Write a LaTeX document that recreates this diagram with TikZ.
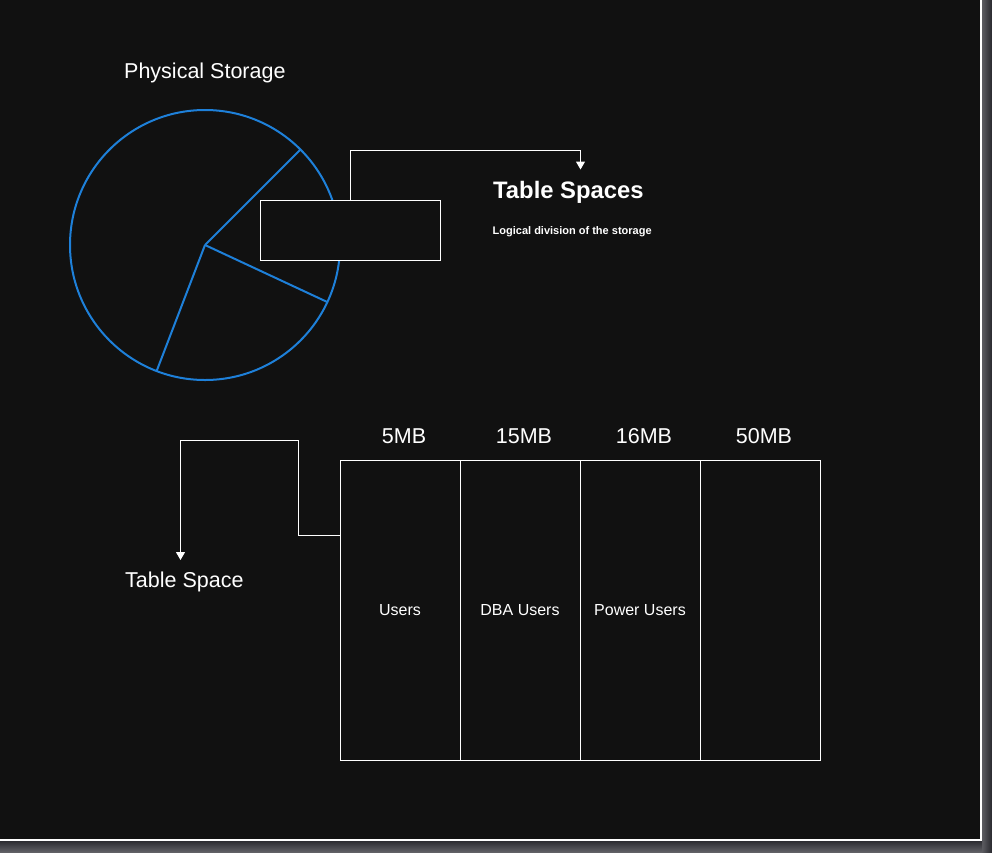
\documentclass[tikz,border=0pt]{standalone}
\usepackage{fontspec}
\setmainfont{Liberation Sans}
\usetikzlibrary{arrows.meta,calc,positioning}

\newlength{\du}
\setlength{\du}{1pt}

\definecolor{canvascolor}{rgb}{0.066667, 0.066667, 0.066667}
\definecolor{diskcolor}{rgb}{0.117647, 0.501961, 0.850980}
\definecolor{shadowlight}{rgb}{0.380000, 0.380000, 0.400000}
\definecolor{shadowdark}{rgb}{0.160000, 0.160000, 0.180000}

\tikzset{
  disk/.style={circle, draw=diskcolor, line width=2\du, minimum size=270\du, inner sep=0pt, outer sep=0pt},
  spoke/.style={draw=diskcolor, line width=2\du},
  tsbox/.style={draw=white, fill=canvascolor, line width=1\du, minimum width=180\du, minimum height=60\du, inner sep=0pt, outer sep=0pt},
  cellbox/.style={draw=white, fill=canvascolor, line width=1\du, minimum width=120\du, minimum height=300\du, inner sep=0pt, outer sep=0pt, text=white, font=\fontsize{16}{19}\selectfont},
  headtext/.style={text=white, inner sep=0pt, font=\fontsize{21.5}{26}\selectfont},
  titletext/.style={text=white, inner sep=0pt, font=\fontsize{23.8}{28}\selectfont\bfseries},
  notetext/.style={text=white, inner sep=0pt, font=\fontsize{11}{13}\selectfont\bfseries},
  linkline/.style={draw=white, line width=1\du, -{Triangle[width=9pt,length=8pt]}}
}

\begin{document}
\begin{tikzpicture}
  \pgftransformxscale{1.000000}
  \pgftransformyscale{-1.000000}
  \useasboundingbox (0\du,0\du) rectangle (992\du,852\du);
  % frame and shadow
  \shade[left color=shadowlight, right color=shadowdark] (981\du,0\du) rectangle (992\du,852\du);
  \shade[top color=shadowdark, bottom color=shadowlight] (0\du,840\du) rectangle (982\du,852\du);
  \fill[canvascolor] (0\du,0\du) rectangle (981\du,840\du);
  \draw[white, line width=1.5\du] (981\du,0\du) -- (981\du,840\du) -- (0\du,840\du);

  % physical storage
  \node[headtext, anchor=base west] (pstitle) at (124\du,78\du) {Physical Storage};
  \node[disk] (disk) at (205\du,245\du) {};
  \draw[spoke] (disk.center) -- (disk.45);
  \draw[spoke] (disk.center) -- (disk.-25);
  \draw[spoke] (disk.center) -- (disk.-111);
  \node[tsbox] (tsbox) at (350\du,230\du) {};

  \node[titletext, anchor=base west] (tstitle) at (493\du,198\du) {Table Spaces};
  \node[notetext, anchor=base west] (tsnote) at (492.5\du,234\du) {Logical division of the storage};

  \coordinate (tsbend) at (580.5\du,150.5\du);
  \coordinate (tsarrow) at (580.5\du,169.5\du);
  \draw[linkline] (tsbox.north) |- (tsbend) -- (tsarrow);

  % table space cells
  \node[cellbox] (users) at (400\du,610.5\du) {\raisebox{-2\du}{Users}};
  \node[cellbox, right=0pt of users] (dbausers) {\raisebox{-2\du}{DBA Users}};
  \node[cellbox, right=0pt of dbausers] (powerusers) {\raisebox{-2\du}{Power Users}};
  \node[cellbox, right=0pt of powerusers] (spare) {};

  \node[headtext, anchor=base] (mbusers) at ($(users.north)+(4\du,-17\du)$) {5MB};
  \node[headtext, anchor=base] (mbdba) at ($(dbausers.north)+(4\du,-17\du)$) {15MB};
  \node[headtext, anchor=base] (mbpower) at ($(powerusers.north)+(4\du,-17\du)$) {16MB};
  \node[headtext, anchor=base] (mbspare) at ($(spare.north)+(4\du,-17\du)$) {50MB};

  \node[headtext, anchor=base west] (tslabel) at (125\du,587\du) {Table Space};

  \coordinate (cellsjoin) at ($(users.north west)!0.25!(users.south west)$);
  \coordinate (tselbow) at (298\du,440.5\du);
  \coordinate (tstip) at (180.5\du,560\du);
  \draw[linkline] (cellsjoin) -| (tselbow) -| (tstip);
\end{tikzpicture}
\end{document}
